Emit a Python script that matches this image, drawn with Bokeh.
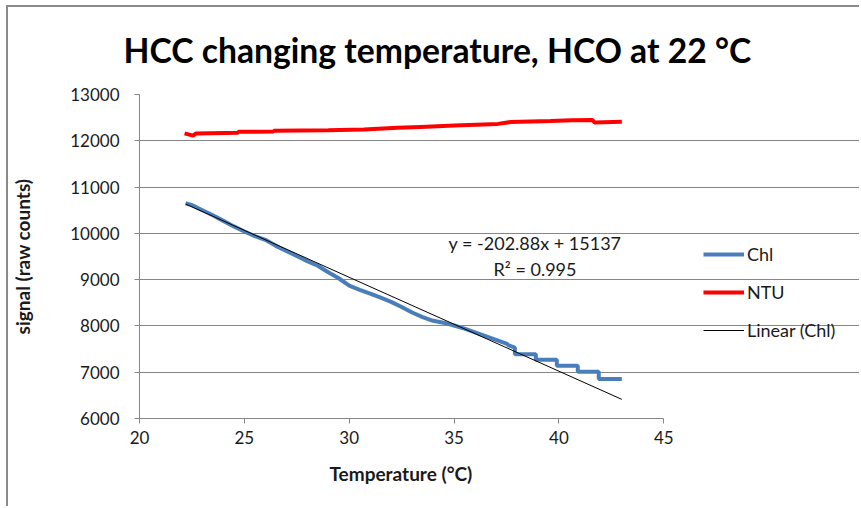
from bokeh.plotting import figure
from bokeh.models import Legend, LegendItem, Label, FixedTicker, Range1d, Title
from bokeh.embed import file_html
from bokeh.resources import INLINE

# ---- data ----
chl_temp = [22.2, 22.5, 23.0, 23.5, 24.0, 24.5, 25.0, 25.5, 26.0, 26.5, 27.0, 27.5,
            28.0, 28.5, 29.0, 29.5, 30.0, 30.5, 31.0, 31.5, 32.0, 32.5, 33.0, 33.5,
            34.0, 34.5, 35.0, 35.5, 36.0, 36.5, 37.0, 37.5, 37.6, 37.9, 37.9, 38.9,
            38.9, 39.9, 39.9, 40.9, 40.9, 41.9, 41.9, 43.0]
chl_signal = [10650, 10610, 10500, 10390, 10270, 10150, 10040, 9940, 9860, 9730, 9620, 9510,
              9400, 9300, 9160, 9030, 8870, 8780, 8700, 8610, 8520, 8410, 8290, 8190,
              8110, 8070, 8010, 7940, 7860, 7780, 7700, 7620, 7580, 7530, 7390, 7390,
              7270, 7270, 7140, 7140, 7010, 7010, 6855, 6855]

ntu_temp = [22.15, 22.55, 22.7, 24.7, 24.7, 26.4, 26.4, 29.0, 30.7, 32.3, 33.4, 35.0,
            37.1, 37.7, 39.6, 40.6, 41.6, 41.7, 43.0]
ntu_signal = [12160, 12110, 12160, 12175, 12195, 12200, 12215, 12225, 12245, 12280, 12300, 12330,
              12365, 12405, 12425, 12445, 12450, 12395, 12410]

trend_slope = -202.88
trend_intercept = 15137
trend_label = "y = -202.88x + 15137"
r2_label = "R\u00b2 = 0.995"

x_min, x_max = 20, 45
y_min, y_max = 6000, 13000
x_ticks = [20, 25, 30, 35, 40, 45]
y_ticks = [6000, 7000, 8000, 9000, 10000, 11000, 12000, 13000]

title_text = "HCC changing temperature, HCO at 22 \u00b0C"
x_label = "Temperature (\u00b0C)"
y_label = "signal (raw counts)"

FONT = "Lato"
GRAY = "#868686"
TXT = "#1a1a1a"

W, H = 853, 501
ML, MR, MT, MB = 130, 2, 86, 90
axis_px = 525  # width of the axis span in pixels
frame_px = W - ML - MR
x_end = x_min + (x_max - x_min) * frame_px / axis_px  # extra room at right for the legend

p = figure(width=W, height=H, output_backend="svg", toolbar_location=None,
           x_range=Range1d(x_min, x_end), y_range=Range1d(y_min, y_max),
           min_border_left=ML, min_border_right=MR, min_border_top=MT, min_border_bottom=MB)
p.styles = {"margin-left": "6px", "margin-top": "5px",
            "border-left": "2px solid #8a8a8a", "border-top": "2px solid #8a8a8a"}

p.title.text = title_text
p.title.text_font = FONT
p.title.text_font_size = "33.7px"
p.title.text_font_style = "bold"
p.title.align = "left"
p.title.vertical_align = "top"
p.title.offset = -16
p.title.standoff = 45
p.title.text_color = "black"

p.outline_line_color = None
p.background_fill_color = "white"
p.border_fill_color = "white"

p.xgrid.grid_line_color = None
p.ygrid.grid_line_color = GRAY
p.ygrid.grid_line_width = 1
p.ygrid.ticker = FixedTicker(ticks=y_ticks)
p.ygrid.bounds = (x_min, x_max)

for ax in (p.xaxis[0], p.yaxis[0]):
    ax.axis_line_color = GRAY
    ax.major_tick_line_color = GRAY
    ax.minor_tick_line_color = None
    ax.major_tick_in = 0
    ax.major_tick_out = 5
    ax.major_label_text_font = FONT
    ax.major_label_text_font_size = "17px"
    ax.major_label_text_color = TXT
    ax.axis_label_text_font = FONT
    ax.axis_label_text_font_size = "19px"
    ax.axis_label_text_font_style = "bold"
    ax.axis_label_text_color = TXT

p.xaxis[0].bounds = (x_min, x_max)
p.xaxis[0].ticker = FixedTicker(ticks=x_ticks)
p.yaxis[0].ticker = FixedTicker(ticks=y_ticks)
p.yaxis[0].axis_label = y_label
p.xaxis[0].major_label_standoff = 7
p.yaxis[0].major_label_standoff = 15
p.yaxis[0].axis_label_standoff = 33

# x-axis title, positioned over the axis span (not over the wider frame)
xt = Title(text=x_label, align="left", offset=190, standoff=27,
           text_font=FONT, text_font_size="19px", text_font_style="bold", text_color=TXT)
p.add_layout(xt, "below")

r_chl = p.line(chl_temp, chl_signal, line_color="#4a7ebb", line_width=4)
r_ntu = p.line(ntu_temp, ntu_signal, line_color="#ff0000", line_width=4)
tx = [min(chl_temp), max(chl_temp)]
ty = [trend_slope * t + trend_intercept for t in tx]
r_tr = p.line(tx, ty, line_color="black", line_width=1)

p.add_layout(Label(x=38.86, y=9800, text=trend_label, text_font=FONT, text_font_size="18px",
                   text_align="center", text_baseline="middle", text_color=TXT))
p.add_layout(Label(x=38.86, y=9220, text=r2_label, text_font=FONT, text_font_size="18px",
                   text_align="center", text_baseline="middle", text_color=TXT))

legend = Legend(items=[LegendItem(label="Chl", renderers=[r_chl]),
                       LegendItem(label="NTU", renderers=[r_ntu]),
                       LegendItem(label="Linear (Chl)", renderers=[r_tr])],
                location=(564, 77))
legend.border_line_color = None
legend.background_fill_alpha = 0
legend.padding = 0
legend.margin = 0
legend.glyph_width = 41
legend.glyph_height = 20
legend.label_height = 20
legend.spacing = 16
legend.label_standoff = 3
legend.label_text_font = FONT
legend.label_text_font_size = "18px"
legend.label_text_color = TXT
p.add_layout(legend, "center")

open("out.html", "w").write(file_html(p, INLINE))
